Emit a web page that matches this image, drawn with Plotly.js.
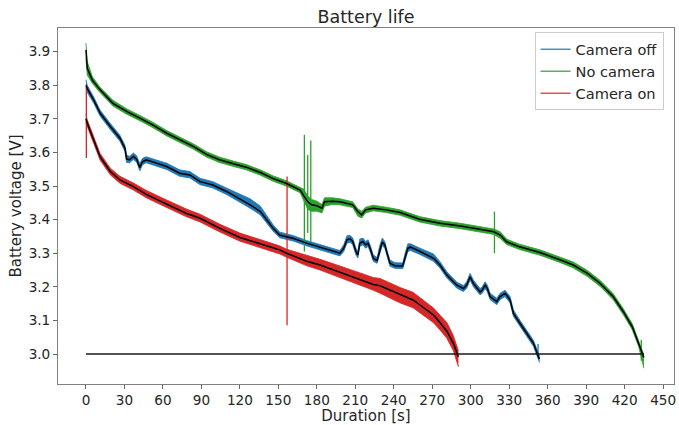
<!DOCTYPE html>
<html>
<head>
<meta charset="utf-8">
<script src="https://cdn.plot.ly/plotly-3.0.1.min.js"></script>
<style>html,body{margin:0;padding:0;background:#fff;}#chart{width:679px;height:425px;}</style>
</head>
<body>
<div id="chart"></div>
<script>
// ---------- Data ----------
const seriesNames = ["Camera off", "No camera", "Camera on"];
const seriesColors = ["#1f77b4", "#2ca02c", "#d62728"];

// Camera off (blue): time, smoothed voltage, noise band upper / lower
const offT = [0,1,6,11,19,26.5,30.4,31.7,34,37,39.5,42,44,47,55,63,73,81,89,99,110,120,128,136,141,146,151,162,172,185,198,201,203.5,206,208,210.5,212,213.5,216,218,220,222,224,227,229,231,233,235,237,241,247,249,251,253,256,260.5,271,276,281.4,289.2,294.3,296.9,299.5,302.1,307.3,309,311.2,313,315.1,320.3,322.9,326.8,330.7,333.3,338.5,343.7,348.9,353.6];
const offV = [3.800,3.790,3.756,3.717,3.677,3.642,3.612,3.580,3.578,3.588,3.580,3.555,3.572,3.578,3.568,3.558,3.538,3.533,3.513,3.503,3.483,3.462,3.444,3.424,3.399,3.374,3.354,3.344,3.330,3.315,3.300,3.315,3.340,3.343,3.335,3.305,3.295,3.330,3.335,3.325,3.330,3.310,3.285,3.278,3.310,3.333,3.325,3.295,3.270,3.263,3.262,3.290,3.315,3.318,3.312,3.305,3.285,3.265,3.235,3.205,3.195,3.205,3.230,3.210,3.185,3.190,3.205,3.195,3.171,3.156,3.171,3.181,3.161,3.121,3.091,3.062,3.032,2.985];
const offHi = [3.816,3.800,3.765,3.726,3.686,3.651,3.621,3.592,3.588,3.598,3.590,3.566,3.582,3.587,3.577,3.568,3.548,3.543,3.523,3.513,3.493,3.475,3.462,3.440,3.410,3.384,3.363,3.352,3.338,3.323,3.308,3.325,3.352,3.353,3.345,3.315,3.305,3.342,3.345,3.335,3.340,3.320,3.295,3.287,3.322,3.345,3.335,3.305,3.280,3.272,3.271,3.302,3.328,3.328,3.322,3.315,3.298,3.275,3.245,3.214,3.204,3.215,3.240,3.220,3.195,3.200,3.215,3.205,3.181,3.166,3.181,3.190,3.171,3.131,3.100,3.071,3.041,2.995];
const offLo = [3.780,3.778,3.747,3.708,3.668,3.633,3.603,3.570,3.569,3.579,3.571,3.545,3.563,3.569,3.559,3.549,3.529,3.524,3.504,3.494,3.474,3.452,3.434,3.414,3.390,3.365,3.346,3.336,3.322,3.307,3.292,3.305,3.330,3.333,3.325,3.295,3.286,3.320,3.325,3.315,3.320,3.300,3.276,3.270,3.300,3.323,3.315,3.285,3.261,3.255,3.254,3.280,3.305,3.308,3.303,3.296,3.276,3.256,3.226,3.196,3.186,3.196,3.220,3.200,3.176,3.181,3.195,3.185,3.162,3.147,3.162,3.171,3.152,3.112,3.082,3.053,3.023,2.975];

// No camera (green)
const noT = [0,1,5,11,21,32,42,52,63,73,84,94,104,115,125,136,146,156,167,170,173,176,180,184,186,192,198,208,212,215,218,224,234,245,260,276,292,307,318,323,328,338,354,370,380,391,401,411,419,426,431,435];
const noV = [3.905,3.850,3.815,3.786,3.746,3.721,3.702,3.682,3.657,3.637,3.617,3.594,3.578,3.566,3.556,3.540,3.522,3.508,3.488,3.470,3.453,3.444,3.441,3.434,3.453,3.455,3.453,3.444,3.424,3.414,3.429,3.434,3.429,3.421,3.401,3.389,3.381,3.371,3.364,3.354,3.334,3.319,3.302,3.280,3.265,3.240,3.210,3.171,3.126,3.081,3.032,2.990];
const noHi = [3.925,3.870,3.825,3.794,3.755,3.729,3.710,3.690,3.665,3.645,3.625,3.602,3.586,3.574,3.564,3.548,3.530,3.516,3.496,3.490,3.470,3.460,3.455,3.445,3.465,3.465,3.462,3.453,3.432,3.425,3.437,3.443,3.437,3.429,3.409,3.397,3.389,3.379,3.372,3.364,3.342,3.327,3.310,3.288,3.274,3.249,3.219,3.180,3.135,3.090,3.042,2.998];
const noLo = [3.880,3.830,3.805,3.778,3.738,3.713,3.694,3.674,3.649,3.629,3.609,3.586,3.570,3.558,3.548,3.532,3.514,3.500,3.480,3.455,3.430,3.425,3.425,3.420,3.440,3.445,3.444,3.436,3.410,3.405,3.420,3.426,3.421,3.413,3.393,3.381,3.373,3.363,3.356,3.344,3.326,3.311,3.294,3.272,3.256,3.231,3.201,3.162,3.117,3.072,3.022,2.958];

// Camera on (red)
const onT = [0,1,6,11,19,26.5,37,47,58,68,78,89,104.5,120,136,151,156.5,167,172,182.5,198,210,224,229.3,245,255,260.5,266,271,276,281.4,286.5,290.4];
const onV = [3.700,3.687,3.637,3.587,3.543,3.518,3.498,3.475,3.455,3.437,3.419,3.404,3.374,3.347,3.328,3.310,3.300,3.285,3.276,3.265,3.243,3.227,3.207,3.203,3.177,3.161,3.146,3.131,3.116,3.094,3.068,3.032,2.992];
const onHi = [3.715,3.697,3.647,3.597,3.553,3.529,3.509,3.487,3.467,3.450,3.432,3.416,3.386,3.360,3.341,3.322,3.312,3.300,3.292,3.282,3.262,3.246,3.228,3.225,3.198,3.184,3.168,3.153,3.137,3.116,3.094,3.055,3.010];
const onLo = [3.690,3.677,3.627,3.577,3.533,3.508,3.488,3.465,3.445,3.427,3.409,3.393,3.363,3.336,3.317,3.298,3.288,3.272,3.263,3.250,3.228,3.211,3.190,3.181,3.152,3.138,3.122,3.108,3.093,3.072,3.047,3.010,2.962];

// Isolated spikes (time, top, bottom) per series
const offSpikeT = [352.5];
const offSpikeHi = [3.030];
const offSpikeLo = [2.990];
const noSpikeT = [170.3, 172.9, 175.3, 318.5, 433.0];
const noSpikeHi = [3.652, 3.592, 3.635, 3.424, 3.042];
const noSpikeLo = [3.305, 3.360, 3.334, 3.300, 2.980];
const onSpikeT = [0.3, 156.8];
const onSpikeHi = [3.796, 3.528];
const onSpikeLo = [3.583, 3.086];

// Cut-off voltage line
const cutoffT = [0, 435];
const cutoffV = [3.0, 3.0];

// Axis ticks
const xTicks = [0,30,60,90,120,150,180,210,240,270,300,330,360,390,420,450];
const yTicks = [3.0,3.1,3.2,3.3,3.4,3.5,3.6,3.7,3.8,3.9];

// ---------- Build traces ----------
function band(t, hi, lo, color) {
  return [
    {x: t, y: lo, mode: 'lines', line: {color: color, width: 0.8}, showlegend: false, hoverinfo: 'skip'},
    {x: t, y: hi, mode: 'lines', fill: 'tonexty', fillcolor: color, line: {color: color, width: 0.8}, showlegend: false, hoverinfo: 'skip'}
  ];
}
function spikes(t, hi, lo, color) {
  const xs = [], ys = [];
  for (let i = 0; i < t.length; i++) { xs.push(t[i], t[i], null); ys.push(lo[i], hi[i], null); }
  return {x: xs, y: ys, mode: 'lines', line: {color: color, width: 1.3}, showlegend: false, hoverinfo: 'skip'};
}
function smooth(t, v) {
  return {x: t, y: v, mode: 'lines', line: {color: '#000000', width: 1.5}, showlegend: false, hoverinfo: 'skip'};
}

const traces = [];
traces.push(...band(offT, offHi, offLo, seriesColors[0]), spikes(offSpikeT, offSpikeHi, offSpikeLo, seriesColors[0]));
traces.push(...band(noT, noHi, noLo, seriesColors[1]), spikes(noSpikeT, noSpikeHi, noSpikeLo, seriesColors[1]));
traces.push(...band(onT, onHi, onLo, seriesColors[2]), spikes(onSpikeT, onSpikeHi, onSpikeLo, seriesColors[2]));
traces.push(smooth(offT, offV), smooth(noT, noV), smooth(onT, onV));
traces.push({x: cutoffT, y: cutoffV, mode: 'lines', line: {color: '#1a1a1a', width: 1.5}, showlegend: false, hoverinfo: 'skip'});
const legendColors = ["rgba(31,119,180,0.8)", "rgba(44,160,44,0.8)", "rgba(214,39,40,0.8)"];
for (let i = 0; i < 3; i++) {
  traces.push({x: [null], y: [null], mode: 'lines', name: seriesNames[i], line: {color: legendColors[i], width: 1.5}, showlegend: true});
}

const tickFont = {family: 'DejaVu Sans, sans-serif', size: 13.6, color: '#262626'};
const titleFont = {family: 'DejaVu Sans, sans-serif', size: 15, color: '#262626'};
const layout = {
  width: 679, height: 425,
  margin: {l: 58, r: 5, t: 28, b: 41},
  paper_bgcolor: '#ffffff', plot_bgcolor: '#ffffff',
  font: tickFont,
  showlegend: true,
  title: {text: 'Battery life', font: {family: 'DejaVu Sans, sans-serif', size: 17.5, color: '#262626'}, x: 0.5, xref: 'paper', y: 0.96, yref: 'container', yanchor: 'middle'},
  xaxis: {
    range: [-21.8, 458.5], tickvals: xTicks, ticks: 'outside', ticklen: 4, tickcolor: '#666', tickwidth: 1,
    showline: true, mirror: true, linecolor: '#808080', linewidth: 1, showgrid: false, zeroline: false,
    tickfont: tickFont,
    title: {text: 'Duration [s]', font: titleFont, standoff: 3}
  },
  yaxis: {
    range: [2.911, 3.970], tickvals: yTicks, tickformat: '.1f', ticks: 'outside', ticklen: 4, tickcolor: '#666', tickwidth: 1,
    showline: true, mirror: true, linecolor: '#808080', linewidth: 1, showgrid: false, zeroline: false,
    tickfont: tickFont,
    title: {text: 'Battery voltage [V]', font: titleFont, standoff: 3}
  },
  legend: {
    x: 0.983, xanchor: 'right', y: 0.988, yanchor: 'top',
    bgcolor: 'rgba(255,255,255,0.85)', bordercolor: '#cccccc', borderwidth: 1,
    font: {family: 'DejaVu Sans, sans-serif', size: 14.6, color: '#262626'},
    traceorder: 'normal'
  }
};

Plotly.newPlot('chart', traces, layout, {displayModeBar: false, staticPlot: true});
</script>
</body>
</html>
